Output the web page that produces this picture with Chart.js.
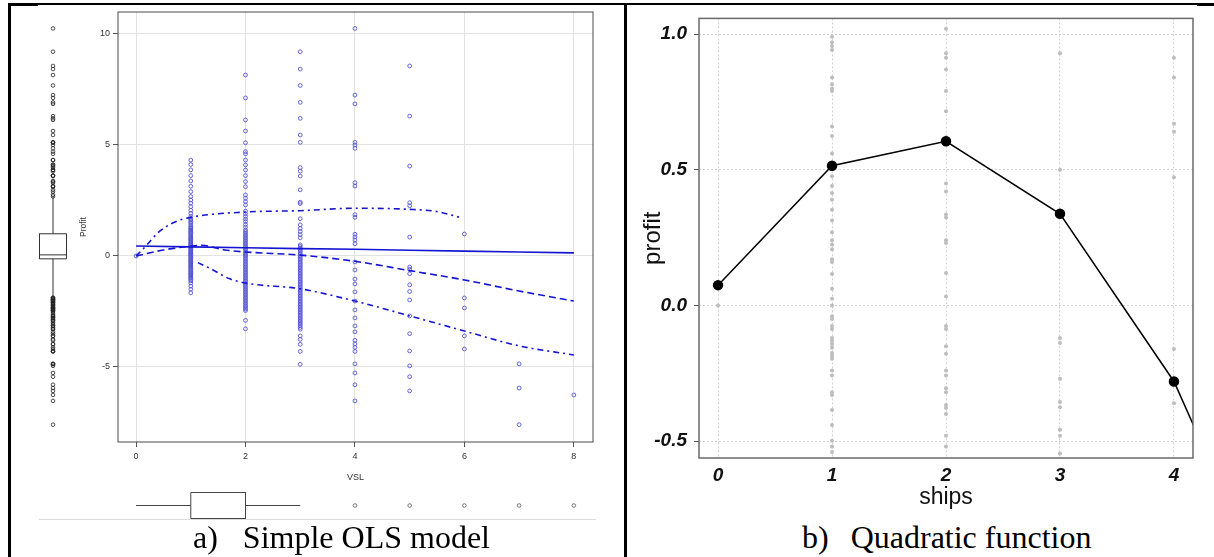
<!DOCTYPE html>
<html>
<head>
<meta charset="utf-8">
<script src="https://cdn.jsdelivr.net/npm/chart.js@4.4.1/dist/chart.umd.min.js"></script>
<style>
  html, body { margin: 0; padding: 0; background: #fff; }
  #page { position: relative; width: 1214px; height: 557px; overflow: hidden; background: #fff; }
  #page canvas { position: absolute; }
  .rule { position: absolute; background: #000; }
  .caption {
    position: absolute; white-space: nowrap; color: #000;
    font-family: "Liberation Serif", "Times New Roman", serif;
    font-size: 32px; line-height: 32px;
  }
</style>
</head>
<body>
<div id="page">
  <!-- table borders around the two panels -->
  <div class="rule" style="left:8px;top:3px;width:1206px;height:2px"></div>
  <div class="rule" style="left:8px;top:3px;width:30px;height:3px"></div>
  <div class="rule" style="left:1197px;top:3px;width:17px;height:3px"></div>
  <div class="rule" style="left:8px;top:3px;width:3px;height:554px"></div>
  <div class="rule" style="left:624px;top:3px;width:3px;height:554px"></div>
  <div class="rule" style="left:39px;top:519px;width:557px;height:1px;background:#dcdcdc"></div>

  <canvas id="profitBox" width="40" height="430" style="left:33px;top:12px"></canvas>
  <canvas id="olsChart" width="560" height="490" style="left:60px;top:0px"></canvas>
  <canvas id="vslBox" width="475" height="31" style="left:118px;top:490px"></canvas>
  <canvas id="quadChart" width="584" height="510" style="left:630px;top:0px"></canvas>

  <div class="caption" style="left:193px;top:521px">a)<span style="margin-left:25px">Simple OLS model</span></div>
  <div class="caption" style="left:802px;top:521px">b)<span style="margin-left:22px">Quadratic function</span></div>
</div>

<script>
// ---- panel a: profit against number of vessels (VSL) ----
const vslTicks = [0, 2, 4, 6, 8];
const profitTicks = [-5, 0, 5, 10];

const profitVsl0 = [0.0];
const profitVsl1 = [4.32, 4.12, 3.88, 3.62, 3.38, 3.14, 2.9, 2.68, 2.52, 2.38, 2.22, 2.06, 1.92, 1.78,
  1.68, 1.62, 1.55, 1.48, 1.4, 1.32, 1.27, 1.22, 1.16, 1.12, 1.06, 1.02, 0.95, 0.9, 0.85, 0.8, 0.76,
  0.72, 0.67, 0.62, 0.57, 0.52, 0.48, 0.45, 0.41, 0.38, 0.33, 0.28, 0.24, 0.18, 0.14, 0.1, 0.06, 0.02,
  -0.03, -0.08, -0.13, -0.18, -0.22, -0.26, -0.31, -0.36, -0.41, -0.46, -0.5, -0.55, -0.6, -0.66,
  -0.71, -0.76, -0.8, -0.85, -0.9, -0.96, -1.0, -1.06, -1.12, -1.22, -1.36, -1.5, -1.66];
const profitVsl2 = [8.15, 7.12, 6.13, 5.63, 5.1, 4.7, 4.6, 4.32, 4.1, 3.87, 3.62, 3.35, 3.12, 2.75, 2.6,
  2.45, 2.3, 2.02, 1.9, 1.78, 1.66, 1.55, 1.42, 1.3, 1.17, 1.1, 1.02, 0.95, 0.88, 0.81, 0.74, 0.67,
  0.6, 0.53, 0.46, 0.39, 0.32, 0.25, 0.18, 0.11, 0.05, -0.01, -0.08, -0.15, -0.22, -0.29, -0.36, -0.43,
  -0.5, -0.57, -0.64, -0.71, -0.78, -0.85, -0.92, -0.99, -1.06, -1.13, -1.2, -1.27, -1.34, -1.41,
  -1.48, -1.55, -1.62, -1.69, -1.76, -1.83, -1.9, -1.97, -2.04, -2.11, -2.18, -2.25, -2.32, -2.39,
  -2.46, -2.9, -3.28];
const profitVsl3 = [9.2, 8.42, 7.68, 6.92, 6.2, 5.45, 5.12, 3.98, 3.82, 3.6, 2.98, 2.42, 2.36, 1.68, 1.4,
  1.24, 1.1, 0.96, 0.82, 0.5, 0.43, 0.36, 0.29, 0.22, 0.15, 0.08, 0.01, -0.06, -0.13, -0.2, -0.27,
  -0.34, -0.41, -0.48, -0.55, -0.62, -0.69, -0.76, -0.83, -0.9, -0.97, -1.04, -1.11, -1.18, -1.25,
  -1.32, -1.39, -1.46, -1.53, -1.6, -1.67, -1.74, -1.81, -1.88, -1.95, -2.02, -2.09, -2.16, -2.23,
  -2.3, -2.37, -2.44, -2.51, -2.58, -2.65, -2.72, -2.79, -2.86, -2.93, -3.0, -3.07, -3.14, -3.22,
  -3.3, -3.6, -3.76, -3.98, -4.3, -4.88];
const profitVsl4 = [10.25, 7.25, 6.85, 5.12, 5.0, 4.85, 3.3, 3.15, 1.86, 1.74, 0.98, 0.86, 0.72, 0.55,
  -0.27, -0.63, -1.04, -1.26, -1.62, -2.03, -2.43, -2.79, -3.15, -3.42, -3.8, -3.96, -4.12, -4.3, -4.86,
  -5.27, -5.8, -6.53];
const profitVsl5 = [8.56, 6.3, 4.05, 2.4, 2.26, 0.85, -0.5, -0.6, -0.8, -1.3, -1.6, -1.98, -2.7, -3.5,
  -4.28, -4.95, -5.44, -6.08];
const profitVsl6 = [0.99, -1.89, -2.34, -3.6, -4.19];
const profitVsl7 = [-4.86, -5.95, -7.6];
const profitVsl8 = [-6.26];

// fitted lines
const olsX = [0, 1, 2, 3, 4, 5, 6, 7, 8];
const olsFit = [0.45, 0.41, 0.37, 0.33, 0.3, 0.26, 0.22, 0.18, 0.14];
const smoothX = [0, 0.5, 1, 1.2, 1.6, 2, 3, 4, 5, 6, 7, 8];
const smoothFit = [0, 0.27, 0.44, 0.48, 0.28, 0.18, 0.04, -0.24, -0.66, -1.08, -1.58, -2.03];
const upperX = [0, 0.2, 0.38, 0.68, 1, 2, 3, 4, 5, 5.5, 5.9];
const upperBand = [0, 0.5, 1.0, 1.5, 1.74, 1.98, 2.04, 2.15, 2.1, 2.0, 1.75];
const lowerX = [1.13, 1.4, 1.7, 2, 3, 4, 5, 6, 7, 8];
const lowerBand = [-0.3, -0.62, -1.02, -1.22, -1.48, -2.03, -2.7, -3.38, -4.05, -4.46];

// marginal box plots: [lower whisker, Q1, median, Q3, upper whisker]
const profitBoxStats = [-1.85, -0.13, 0.05, 1.0, 2.66];
const vslBoxStats = [0, 1, 2, 2, 3];
const vslOutliers = [4, 5, 6, 7, 8];

// ---- panel b: profit against number of ships ----
const shipTicks = [0, 1, 2, 3, 4];
const shipProfitTicks = [-0.5, 0, 0.5, 1.0];
const shipLevels = [0, 1, 2, 3, 4, 5];
const fittedProfit = [0.075, 0.515, 0.605, 0.338, -0.28, -1.22];
const obsShips0 = [0.0, 0.07];
const obsShips1 = [0.99, 0.97, 0.956, 0.942, 0.84, 0.815, 0.8, 0.79, 0.66, 0.625, 0.56, 0.51, 0.476, 0.44,
  0.415, 0.39, 0.353, 0.313, 0.27, 0.24, 0.225, 0.207, 0.17, 0.16, 0.116, 0.062, 0.025, 0.0, -0.04, -0.05,
  -0.076, -0.087, -0.12, -0.13, -0.142, -0.156, -0.175, -0.185, -0.196, -0.24, -0.258, -0.32, -0.33,
  -0.385, -0.44, -0.498, -0.52, -0.54];
const obsShips2 = [1.02, 0.93, 0.913, 0.87, 0.79, 0.716, 0.62, 0.45, 0.42, 0.335, 0.324, 0.24, 0.23, 0.12,
  0.033, -0.076, -0.087, -0.15, -0.178, -0.24, -0.258, -0.305, -0.32, -0.367, -0.378, -0.4, -0.48, -0.52];
const obsShips3 = [0.93, 0.5, 0.35, -0.12, -0.138, -0.27, -0.356, -0.375, -0.458, -0.48, -0.545];
const obsShips4 = [0.913, 0.84, 0.67, 0.64, 0.473, -0.16, -0.36];

const olsRange = { xMin: -0.33, xMax: 8.35, yMin: -8.38, yMax: 10.99 };
const quadRange = { xMin: -0.167, xMax: 4.167, yMin: -0.562, yMax: 1.058 };

Chart.defaults.font.family = '"Liberation Sans", Arial, sans-serif';
Chart.defaults.animation = false;

// draws the box round the plot area
const framePlugin = {
  id: 'frame',
  afterDatasetsDraw(chart, args, opts) {
    if (!opts || !opts.color) return;
    const { ctx, chartArea: a } = chart;
    ctx.save();
    ctx.strokeStyle = opts.color;
    ctx.lineWidth = opts.width || 1;
    ctx.strokeRect(a.left, a.top, a.right - a.left, a.bottom - a.top);
    ctx.restore();
  }
};

function pairs(xs, ys) {
  return xs.map((x, i) => ({ x: x, y: ys[i] }));
}
function column(x, values) {
  return values.map(v => ({ x: x, y: v }));
}
function fixedTicks(values) {
  return scale => { scale.ticks = values.map(v => ({ value: v })); };
}

const noChrome = { legend: { display: false }, tooltip: { enabled: false } };

// ---------------- panel a main scatter ----------------
const profitColumns = [profitVsl0, profitVsl1, profitVsl2, profitVsl3, profitVsl4,
  profitVsl5, profitVsl6, profitVsl7, profitVsl8];
const olsPoints = [];
profitColumns.forEach((vals, vsl) => { olsPoints.push(...column(vsl, vals)); });

const lineBlue = '#1414d4';
new Chart(document.getElementById('olsChart'), {
  type: 'scatter',
  data: {
    datasets: [
      { label: 'OLS fit', data: pairs(olsX, olsFit), showLine: true, borderColor: lineBlue,
        borderWidth: 1.6, pointRadius: 0 },
      { label: 'smooth', data: pairs(smoothX, smoothFit), showLine: true, borderColor: lineBlue,
        borderWidth: 1.6, borderDash: [7, 4], pointRadius: 0, cubicInterpolationMode: 'monotone' },
      { label: 'upper', data: pairs(upperX, upperBand), showLine: true, borderColor: lineBlue,
        borderWidth: 1.6, borderDash: [6, 4, 2, 4], pointRadius: 0, cubicInterpolationMode: 'monotone' },
      { label: 'lower', data: pairs(lowerX, lowerBand), showLine: true, borderColor: lineBlue,
        borderWidth: 1.6, borderDash: [6, 4, 2, 4], pointRadius: 0, cubicInterpolationMode: 'monotone' },
      { label: 'Profit', data: olsPoints, pointRadius: 1.9, pointBorderWidth: 0.9,
        pointBorderColor: '#5252d4', pointBackgroundColor: 'rgba(255,255,255,0)' }
    ]
  },
  options: {
    responsive: false,
    layout: { padding: { top: 12, right: 27, left: 0, bottom: 0 } },
    plugins: Object.assign({ frame: { color: '#4a4a4a', width: 1 } }, noChrome),
    scales: {
      x: {
        type: 'linear', min: olsRange.xMin, max: olsRange.xMax,
        afterBuildTicks: fixedTicks(vslTicks),
        afterFit: s => { s.height = 48; },
        grid: { color: '#e2e2e2', tickColor: '#555', tickLength: 5 },
        border: { display: false },
        ticks: { color: '#333', font: { size: 9 }, padding: 4 },
        title: { display: true, text: 'VSL', color: '#333', font: { size: 9 },
          padding: { top: 0, bottom: 7 } }
      },
      y: {
        min: olsRange.yMin, max: olsRange.yMax,
        afterBuildTicks: fixedTicks(profitTicks),
        afterFit: s => { s.width = 58; },
        grid: { color: '#e2e2e2', tickColor: '#555', tickLength: 5 },
        border: { display: false },
        ticks: { color: '#333', font: { size: 9 }, padding: 3 },
        title: { display: true, text: 'Profit', color: '#333', font: { size: 8.5 },
          padding: { top: 19, bottom: 0 } }
      }
    }
  },
  plugins: [framePlugin]
});

// ---------------- marginal box plots ----------------
// box outline, whiskers and median are built from the stats; `half` is the box half-width
// in the cross-axis units (-1..1), `flip` swaps x and y for the horizontal box plot
function boxDatasets(stats, half, flip, color) {
  const [lo, q1, med, q3, hi] = stats;
  const pt = (c, v) => flip ? { x: v, y: c } : { x: c, y: v };
  const seg = pts => ({ data: pts, showLine: true, borderColor: color, borderWidth: 1,
    pointRadius: 0, fill: false });
  return [
    seg([pt(-half, q1), pt(half, q1), pt(half, q3), pt(-half, q3), pt(-half, q1)]),
    seg([pt(-half, med), pt(half, med)]),
    seg([pt(0, lo), pt(0, q1)]),
    seg([pt(0, q3), pt(0, hi)])
  ];
}
const ringPoints = color => ({ showLine: false, pointRadius: 1.8, pointBorderWidth: 0.8,
  pointBorderColor: color, pointBackgroundColor: 'rgba(255,255,255,0)' });

const allProfit = [].concat(...profitColumns);
const profitOutliers = allProfit.filter(v => v > profitBoxStats[4] || v < profitBoxStats[0]);
new Chart(document.getElementById('profitBox'), {
  type: 'scatter',
  data: {
    datasets: boxDatasets(profitBoxStats, 0.675, false, '#333').concat([
      Object.assign({ data: column(0, profitOutliers) }, ringPoints('#222'))
    ])
  },
  options: {
    responsive: false,
    layout: { padding: 0, autoPadding: false },
    plugins: noChrome,
    scales: {
      x: { type: 'linear', display: false, min: -1, max: 1 },
      y: { type: 'linear', display: false, min: olsRange.yMin, max: olsRange.yMax }
    }
  }
});

new Chart(document.getElementById('vslBox'), {
  type: 'scatter',
  data: {
    datasets: boxDatasets(vslBoxStats, 0.839, true, '#444').concat([
      Object.assign({ data: vslOutliers.map(v => ({ x: v, y: 0 })) }, ringPoints('#555'))
    ])
  },
  options: {
    responsive: false,
    layout: { padding: 0, autoPadding: false },
    plugins: noChrome,
    scales: {
      x: { type: 'linear', display: false, min: olsRange.xMin, max: olsRange.xMax },
      y: { type: 'linear', display: false, min: -1, max: 1 }
    }
  }
});

// ---------------- panel b: quadratic function ----------------
const shipColumns = [obsShips0, obsShips1, obsShips2, obsShips3, obsShips4];
const shipPoints = [];
shipColumns.forEach((vals, n) => { shipPoints.push(...column(n, vals)); });

const boldItalic = { size: 19, style: 'italic', weight: 'bold' };
new Chart(document.getElementById('quadChart'), {
  type: 'scatter',
  data: {
    datasets: [
      { label: 'fitted', data: pairs(shipLevels, fittedProfit), showLine: true,
        borderColor: '#000', borderWidth: 1.5, pointRadius: 4.5,
        pointBackgroundColor: '#000', pointBorderColor: '#000' },
      { label: 'observed', data: shipPoints, pointRadius: 2, pointBorderWidth: 0,
        pointBackgroundColor: '#bdbdbd' }
    ]
  },
  options: {
    responsive: false,
    layout: { padding: { top: 13, right: 21, left: 0, bottom: 0 } },
    plugins: Object.assign({ frame: { color: '#6a6a6a', width: 1.5 } }, noChrome),
    scales: {
      x: {
        type: 'linear', min: quadRange.xMin, max: quadRange.xMax,
        afterBuildTicks: fixedTicks(shipTicks),
        afterFit: s => { s.height = 52; },
        grid: { color: '#d2d2d2', drawTicks: false },
        border: { display: false, dash: [2, 2] },
        ticks: { color: '#111', font: boldItalic, padding: 6 },
        title: { display: true, text: 'ships', color: '#111', font: { size: 23, lineHeight: 1.1 },
          padding: { top: 0, bottom: 0 } }
      },
      y: {
        min: quadRange.yMin, max: quadRange.yMax,
        afterBuildTicks: fixedTicks(shipProfitTicks),
        afterFit: s => { s.width = 69; },
        grid: { color: '#d2d2d2', tickColor: '#555', tickLength: 5 },
        border: { display: false, dash: [2, 2] },
        ticks: { color: '#111', font: boldItalic, padding: 7, callback: v => v.toFixed(1) },
        title: { display: true, text: 'profit', color: '#111', font: { size: 24 },
          padding: { top: 9, bottom: 0 } }
      }
    }
  },
  plugins: [framePlugin]
});
</script>
</body>
</html>
